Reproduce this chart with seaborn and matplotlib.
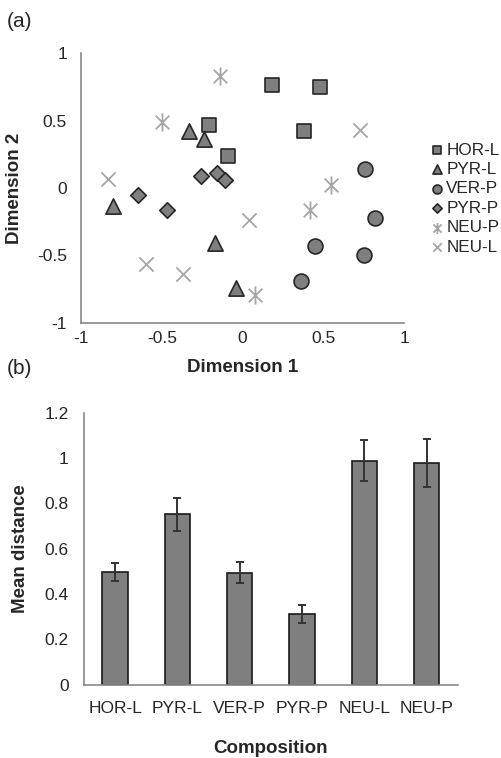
import numpy as np
import pandas as pd
import seaborn as sns
import matplotlib.pyplot as plt
from matplotlib.path import Path

# scatter coordinates
groups = ["HOR-L", "PYR-L", "VER-P", "PYR-P", "NEU-P", "NEU-L"]
hor_l_x = [0.18, 0.48, 0.38, -0.21, -0.09]
hor_l_y = [0.76, 0.75, 0.42, 0.47, 0.24]
pyr_l_x = [-0.33, -0.24, -0.80, -0.17, -0.04]
pyr_l_y = [0.42, 0.36, -0.13, -0.41, -0.74]
ver_p_x = [0.76, 0.82, 0.45, 0.75, 0.36]
ver_p_y = [0.14, -0.22, -0.43, -0.50, -0.69]
pyr_p_x = [-0.65, -0.47, -0.26, -0.16, -0.11]
pyr_p_y = [-0.05, -0.16, 0.09, 0.11, 0.06]
neu_p_x = [-0.14, -0.50, 0.55, 0.42, 0.08]
neu_p_y = [0.83, 0.49, 0.02, -0.16, -0.79]
neu_l_x = [-0.83, -0.60, -0.37, 0.04, 0.73]
neu_l_y = [0.07, -0.56, -0.64, -0.24, 0.43]

# panel (b)
compositions = ["HOR-L", "PYR-L", "VER-P", "PYR-P", "NEU-L", "NEU-P"]
mean_dist = [0.497, 0.752, 0.494, 0.311, 0.989, 0.977]
err_dist = [0.038, 0.072, 0.046, 0.039, 0.091, 0.105]

xs = [hor_l_x, pyr_l_x, ver_p_x, pyr_p_x, neu_p_x, neu_l_x]
ys = [hor_l_y, pyr_l_y, ver_p_y, pyr_p_y, neu_p_y, neu_l_y]
pts = pd.DataFrame({
    "group": np.repeat(groups, 5),
    "dim1": np.concatenate(xs),
    "dim2": np.concatenate(ys),
})
bars = pd.DataFrame({"composition": compositions, "mean": mean_dist})

sns.set_style("white")
plt.rcParams["font.family"] = ["Liberation Sans", "DejaVu Sans"]
plt.rcParams["axes.unicode_minus"] = False

# excel-style asterisk: vertical bar plus an x
star = Path([(0, -1), (0, 1), (-0.75, -0.75), (0.75, 0.75), (-0.75, 0.75), (0.75, -0.75)],
            [Path.MOVETO, Path.LINETO, Path.MOVETO, Path.LINETO, Path.MOVETO, Path.LINETO])

fill = "#7f7f7f"
edge = "#262626"
light = "#a6a6a6"
spine = "#888888"
styles = {
    "HOR-L": dict(marker="s", s=115, color=fill, edgecolor=edge, linewidth=1.2),
    "PYR-L": dict(marker="^", s=120, color=fill, edgecolor=edge, linewidth=1.2),
    "VER-P": dict(marker="o", s=115, color=fill, edgecolor=edge, linewidth=1.2),
    "PYR-P": dict(marker="D", s=62, color=fill, edgecolor=edge, linewidth=1.2),
    "NEU-P": dict(marker=star, s=170, color=light, edgecolor=light, linewidth=1.3),
    "NEU-L": dict(marker="x", s=105, color=light, linewidth=1.3),
}

fig = plt.figure(figsize=(5.01, 7.58), dpi=100)
ax1 = fig.add_axes([0.1617, 0.574, 0.6447, 0.356])
ax2 = fig.add_axes([0.1677, 0.0967, 0.7459, 0.3588])

for g in groups:
    sub = pts[pts["group"] == g]
    sns.scatterplot(data=sub, x="dim1", y="dim2", ax=ax1, label=g, **styles[g])

ax1.set_xlim(-1, 1)
ax1.set_ylim(-1, 1)
ax1.set_xticks([-1, -0.5, 0, 0.5, 1])
ax1.set_yticks([-1, -0.5, 0, 0.5, 1])
ax1.set_xticklabels(["-1", "-0.5", "0", "0.5", "1"])
ax1.set_yticklabels(["-1", "-0.5", "0", "0.5", "1"])
ax1.set_xlabel("Dimension 1", fontsize=13.5, fontweight="bold", labelpad=9)
ax1.set_ylabel("Dimension 2", fontsize=13.5, fontweight="bold", labelpad=10)
ax1.tick_params(axis="x", direction="in", length=5, color=spine, labelsize=12.5, pad=6)
ax1.tick_params(axis="y", direction="out", length=5, color=spine, labelsize=12.5, pad=5)
ax1.legend(loc="upper left", bbox_to_anchor=(0.862, 0.812), bbox_transform=fig.transFigure,
           frameon=False, fontsize=12.3, markerscale=0.6, handlelength=0.6,
           handletextpad=0.25, labelspacing=0.26, borderpad=0, borderaxespad=0)

sns.barplot(data=bars, x="composition", y="mean", ax=ax2, color=fill,
            edgecolor="#1a1a1a", linewidth=1.2, width=0.41, saturation=1, errorbar=None)
ax2.errorbar(x=np.arange(len(compositions)), y=mean_dist, yerr=err_dist, fmt="none",
             ecolor="#333333", elinewidth=1.4, capsize=3, capthick=1.4)
ax2.set_xlim(-0.5, len(compositions) - 0.5)
ax2.set_ylim(0, 1.2)
ax2.set_yticks([0, 0.2, 0.4, 0.6, 0.8, 1.0, 1.2])
ax2.set_yticklabels(["0", "0.2", "0.4", "0.6", "0.8", "1", "1.2"])
ax2.set_xticks(np.arange(-0.5, len(compositions)), minor=True)
ax2.tick_params(axis="x", which="major", length=0, labelsize=12.5, pad=12)
ax2.tick_params(axis="x", which="minor", direction="out", length=5, color=spine)
ax2.tick_params(axis="y", direction="out", length=5, color=spine, labelsize=12.5, pad=6)
ax2.set_xlabel("Composition", fontsize=13.5, fontweight="bold", labelpad=17)
ax2.set_ylabel("Mean distance", fontsize=13.5, fontweight="bold", labelpad=11)

for ax in (ax1, ax2):
    sns.despine(ax=ax)
    for side in ("left", "bottom"):
        ax.spines[side].set_color(spine)
        ax.spines[side].set_linewidth(1.2)

fig.text(0.014, 0.971, "(a)", fontsize=15, va="center", ha="left")
fig.text(0.014, 0.514, "(b)", fontsize=15, va="center", ha="left")

fig.savefig("out.png", dpi=100)
